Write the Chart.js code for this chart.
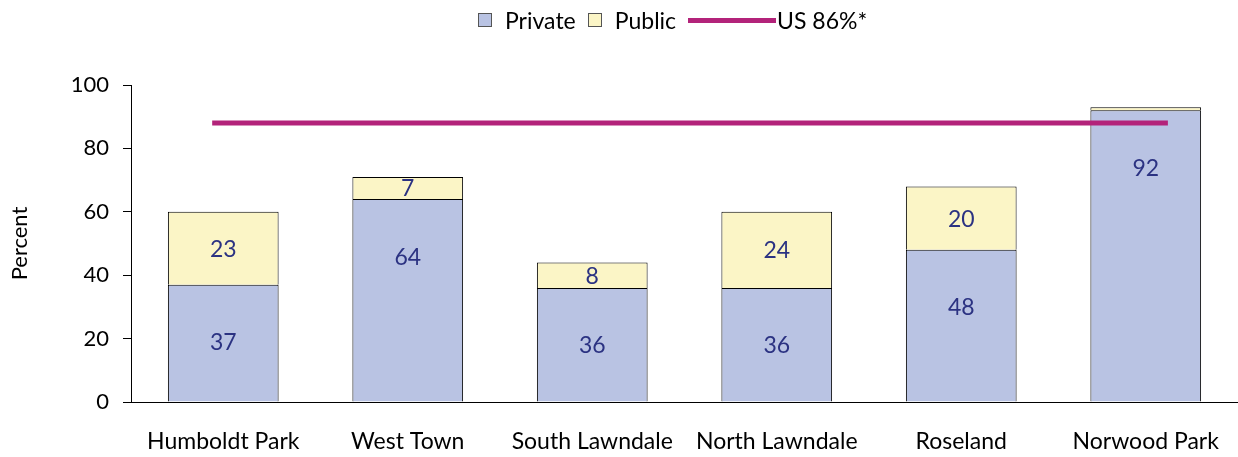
<!DOCTYPE html>
<html>
<head>
<meta charset="utf-8">
<script src="https://cdn.jsdelivr.net/npm/chart.js@4.4.0/dist/chart.umd.min.js"></script>
<style>
  html, body { margin: 0; padding: 0; background: #fff; }
  #wrap { position: relative; width: 1238px; height: 457px; }
  #legend {
    position: absolute; top: 6px; left: 478px;
    display: flex; align-items: center;
    font-family: Lato, "Open Sans", sans-serif; font-size: 23px; color: #000;
  }
  #legend .box { width: 12px; height: 12px; border: 1px solid #555; display: inline-block; margin-right: 13px; }
  #legend .item { display: flex; align-items: center; margin-right: 12px; }
  #legend .line { width: 88px; height: 5px; display: inline-block; margin-right: 1px; }
</style>
</head>
<body>
<div id="wrap">
  <div id="legend">
    <span class="item"><span class="box" style="background:#B9C3E3"></span>Private</span>
    <span class="item"><span class="box" style="background:#FBF5C6"></span>Public</span>
    <span class="item"><span class="line" style="background:#B3237A"></span>US 86%*</span>
  </div>
  <canvas id="chart" width="1238" height="457"></canvas>
</div>
<script>
document.addEventListener('DOMContentLoaded', function() {
    // Data
    const communities = ['Humboldt Park', 'West Town', 'South Lawndale', 'North Lawndale', 'Roseland', 'Norwood Park'];
    const privateValues = [37, 64, 36, 36, 48, 92];
    const publicValues = [23, 7, 8, 24, 20, 1];
    const usLevel = 88;
    // the US reference line runs from just left of the first bar centre to past the last one (category index units)
    const usLineFrom = -0.06;
    const usLineTo = 5.12;
    const yTicks = [0, 20, 40, 60, 80, 100];

    const fontFamily = 'Lato, "Open Sans", sans-serif';

    // Numbers inside the bar segments
    const segmentLabels = {
        id: 'segmentLabels',
        afterDatasetsDraw(chart) {
            const ctx = chart.ctx;
            ctx.save();
            ctx.font = '23px ' + fontFamily;
            ctx.fillStyle = '#2B3282';
            ctx.textAlign = 'center';
            ctx.textBaseline = 'middle';
            [0, 1].forEach(i => {
                const meta = chart.getDatasetMeta(i);
                meta.data.forEach((bar, j) => {
                    const v = chart.data.datasets[i].data[j];
                    if (v < 5) return;
                    const p = bar.getProps(['x', 'y', 'base'], true);
                    let y = (p.y + p.base) / 2;
                    // private labels sit near the top of tall segments
                    if (i === 0) y = Math.min(y, p.y + 57);
                    ctx.fillText(String(v), p.x, y + 1);
                });
            });
            ctx.restore();
        }
    };

    const ctx = document.getElementById('chart').getContext('2d');
    new Chart(ctx, {
        type: 'bar',
        data: {
            labels: communities,
            datasets: [{
                label: 'Private',
                data: privateValues,
                xAxisID: 'x',
                backgroundColor: '#B9C3E3',
                borderColor: '#000',
                borderWidth: 1,
                stack: 'school',
                grouped: false,
                order: 2
            }, {
                label: 'Public',
                data: publicValues,
                xAxisID: 'x',
                backgroundColor: '#FBF5C6',
                borderColor: '#000',
                borderWidth: 1,
                stack: 'school',
                grouped: false,
                order: 2
            }, {
                type: 'line',
                label: 'US 86%*',
                data: [{ x: usLineFrom, y: usLevel }, { x: usLineTo, y: usLevel }],
                xAxisID: 'x2',
                borderColor: '#B3237A',
                borderWidth: 5,
                pointRadius: 0,
                stack: 'us',
                order: 1
            }]
        },
        options: {
            responsive: false,
            animation: false,
            layout: { padding: { top: 85, right: 0, left: 0, bottom: 0 } },
            plugins: {
                legend: { display: false },
                tooltip: { enabled: false }
            },
            datasets: {
                bar: { barPercentage: 0.6, categoryPercentage: 1 }
            },
            scales: {
                x: {
                    type: 'category',
                    stacked: true,
                    grid: { display: false, drawTicks: false },
                    border: { display: true, color: '#000', width: 1 },
                    ticks: { color: '#000', padding: 26, font: { family: fontFamily, size: 23 } },
                    afterFit: function(scale) {
                        scale.height = 55;
                        scale.paddingLeft = 0;
                        scale.paddingRight = 0;
                    }
                },
                x2: {
                    type: 'linear',
                    display: false,
                    offset: false,
                    stacked: false,
                    min: -0.5,
                    max: communities.length - 0.5
                },
                y: {
                    stacked: true,
                    min: 0,
                    max: 100,
                    afterBuildTicks: function(scale) {
                        scale.ticks = yTicks.map(v => ({ value: v }));
                    },
                    grid: { drawOnChartArea: false, drawTicks: true, tickLength: 8, tickColor: '#000' },
                    border: { display: true, color: '#000', width: 1 },
                    ticks: { color: '#000', padding: 14, font: { family: fontFamily, size: 22 } },
                    title: {
                        display: true,
                        text: 'Percent',
                        color: '#000',
                        font: { family: fontFamily, size: 22 },
                        padding: { top: 7, bottom: 14 }
                    },
                    afterFit: function(scale) { scale.width = 131; }
                }
            }
        },
        plugins: [segmentLabels]
    });
});
</script>
</body>
</html>
